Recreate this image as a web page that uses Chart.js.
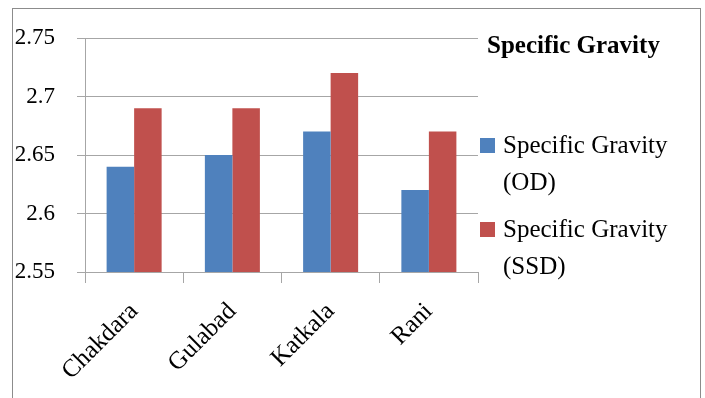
<!DOCTYPE html>
<html>
<head>
<meta charset="utf-8">
<script src="https://cdn.jsdelivr.net/npm/chart.js@4/dist/chart.umd.min.js"></script>
<style>
  html, body { margin: 0; padding: 0; background: #fff; }
  #wrap { width: 705px; height: 398px; position: relative; }
</style>
</head>
<body>
<div id="wrap"><canvas id="c" width="705" height="398"></canvas></div>
<script>
// Sites and measured specific gravity values
const sites = ['Chakdara', 'Gulabad', 'Katkala', 'Rani'];
const gravityOD = [2.64, 2.65, 2.67, 2.62];
const gravitySSD = [2.69, 2.69, 2.72, 2.67];
const seriesNames = [['Specific Gravity', '(OD)'], ['Specific Gravity', '(SSD)']];
const chartTitle = 'Specific Gravity';
const yTicks = [2.55, 2.6, 2.65, 2.7, 2.75];

const FONT = '"Liberation Serif", "DejaVu Serif", serif';
const BLUE = '#4F81BD';
const RED = '#C0504D';
const GRID = '#a6a6a6';

// Frame, title and a wrapped legend on the right side
const decor = {
  id: 'decor',
  afterDraw(chart) {
    const ctx = chart.ctx;
    ctx.save();
    ctx.strokeStyle = '#8c8c8c';
    ctx.lineWidth = 1;
    ctx.strokeRect(12.5, 8.5, 688, 420);

    ctx.fillStyle = '#000';
    ctx.textBaseline = 'middle';
    ctx.textAlign = 'left';
    ctx.font = 'bold 25px ' + FONT;
    ctx.fillText(chartTitle, 487, 47);

    ctx.font = '25px ' + FONT;
    const rows = [145, 229];
    chart.data.datasets.forEach((ds, i) => {
      const y = rows[i];
      ctx.fillStyle = ds.backgroundColor;
      ctx.fillRect(480, y - 7, 15, 15);
      ctx.fillStyle = '#000';
      seriesNames[i].forEach((ln, k) => ctx.fillText(ln, 503, y + 1 + k * 37));
    });
    ctx.restore();
  }
};

new Chart(document.getElementById('c'), {
  type: 'bar',
  data: {
    labels: sites,
    datasets: [
      { label: seriesNames[0].join(' '), data: gravityOD, backgroundColor: BLUE, categoryPercentage: 0.56, barPercentage: 1 },
      { label: seriesNames[1].join(' '), data: gravitySSD, backgroundColor: RED, categoryPercentage: 0.56, barPercentage: 1 }
    ]
  },
  options: {
    responsive: false,
    animation: false,
    devicePixelRatio: 1,
    layout: { padding: { left: 0, right: 227, top: 38, bottom: 0 } },
    plugins: { legend: { display: false }, title: { display: false }, tooltip: { enabled: false } },
    scales: {
      x: {
        grid: { display: true, drawOnChartArea: false, color: GRID, tickLength: 11, offset: true },
        border: { color: GRID },
        ticks: {
          color: '#000',
          font: { family: FONT, size: 25 },
          minRotation: 45,
          maxRotation: 45,
          padding: 14
        },
        afterFit(scale) { scale.height = 126; }
      },
      y: {
        min: 2.55,
        max: 2.75,
        afterBuildTicks(scale) { scale.ticks = yTicks.map(v => ({ value: v })); },
        grid: { color: GRID, tickLength: 8 },
        border: { color: GRID },
        ticks: {
          color: '#000',
          font: { family: FONT, size: 23 },
          padding: 22,
          callback: v => String(Math.round(v * 100) / 100)
        },
        afterFit(scale) { scale.width = 85; }
      }
    }
  },
  plugins: [decor]
});
</script>
</body>
</html>
